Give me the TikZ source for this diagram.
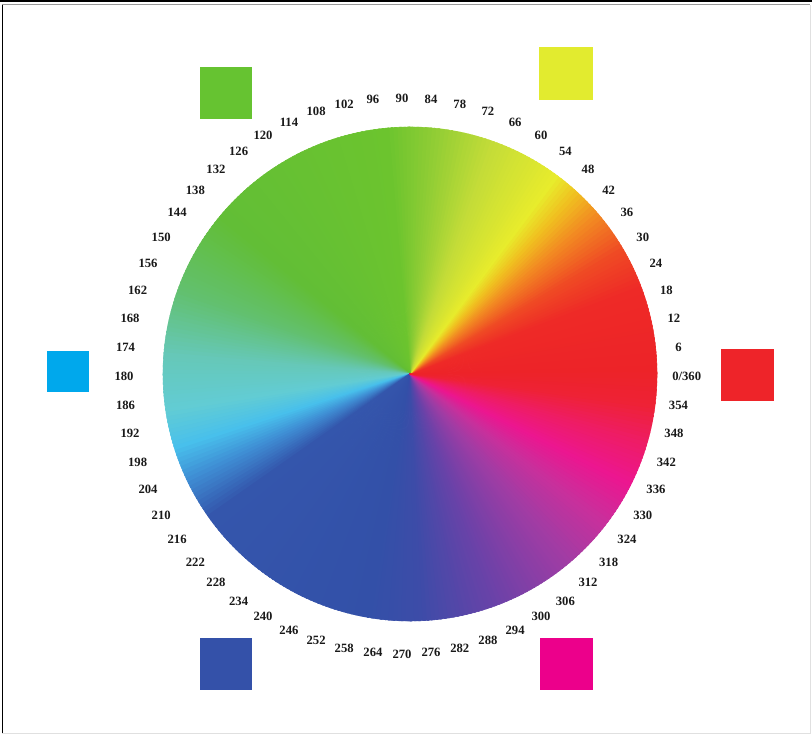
\documentclass[tikz,border=0pt]{standalone}
\usepackage{fontspec}
\setmainfont{Liberation Serif}
\usetikzlibrary{calc}
% wheel key colours
\definecolor{hRed}{HTML}{ED2328}
\definecolor{hRedB}{HTML}{EE2A27}
\definecolor{hOrR}{HTML}{EF4A24}
\definecolor{hOrange}{HTML}{F28A22}
\definecolor{hAmber}{HTML}{F0C020}
\definecolor{hYellow}{HTML}{E8EC2C}
\definecolor{hLime}{HTML}{C4DC38}
\definecolor{hYGreen}{HTML}{8CCC34}
\definecolor{hGreen}{HTML}{6CC42E}
\definecolor{hGreenB}{HTML}{62BE36}
\definecolor{hSea}{HTML}{62C070}
\definecolor{hTeal}{HTML}{66C8B8}
\definecolor{hAqua}{HTML}{62CCD4}
\definecolor{hSky}{HTML}{48C0EC}
\definecolor{hAzure}{HTML}{3F8ED4}
\definecolor{hBlue}{HTML}{3456AC}
\definecolor{hBlueB}{HTML}{3350A8}
\definecolor{hIndigo}{HTML}{3D4CA8}
\definecolor{hViolet}{HTML}{6A42A8}
\definecolor{hPurple}{HTML}{A23CA4}
\definecolor{hOrchid}{HTML}{C8309C}
\definecolor{hMagenta}{HTML}{EC1690}
\definecolor{hRose}{HTML}{EE1C66}
\definecolor{hCrimson}{HTML}{EE2236}
% swatch colours
\definecolor{sqGreen}{HTML}{66C331}
\definecolor{sqYellow}{HTML}{E2EB2F}
\definecolor{sqRed}{HTML}{EE2429}
\definecolor{sqCyan}{HTML}{00A8EC}
\definecolor{sqBlue}{HTML}{3451A9}
\definecolor{sqMagenta}{HTML}{EC008B}

\begin{document}
\begin{tikzpicture}[
  x=0.75pt, y=0.75pt,
  deg/.style={font=\fontsize{9.5}{10}\selectfont\bfseries, inner sep=0pt, text=black!90},
  swatch/.style={draw=none},
  frame/.style={line width=0.75pt},
]
\useasboundingbox (0,0) rectangle (812,735);

% ---------- frame ----------
\fill[black] (0,733) rectangle (812,735);
\draw[frame, draw=black!40] (2,730) -- (810,730);
\draw[frame, draw=black] (2,730) -- (2,2);
\draw[frame, draw=black!12] (2,2) -- (810,2) -- (810,730);

% ---------- wheel ----------
\coordinate (wc) at (410,361);
\coordinate (lc) at (402,359);
\foreach \a/\ca/\b/\cb in {0/hRed/20/hRedB, 20/hRedB/30/hOrR, 30/hOrR/40/hOrange,
    40/hOrange/47/hAmber, 47/hAmber/53/hYellow, 53/hYellow/70/hLime,
    70/hLime/85/hYGreen, 85/hYGreen/95/hGreen, 95/hGreen/140/hGreenB,
    140/hGreenB/160/hSea, 160/hSea/175/hTeal, 175/hTeal/188/hAqua,
    188/hAqua/197/hSky, 197/hSky/205/hAzure, 205/hAzure/215/hBlue,
    215/hBlue/260/hBlueB, 260/hBlueB/272/hIndigo, 272/hIndigo/290/hViolet,
    290/hViolet/310/hPurple, 310/hPurple/322/hOrchid, 322/hOrchid/333/hMagenta,
    333/hMagenta/343/hRose, 343/hRose/352/hCrimson, 352/hCrimson/360/hRed}{
  \pgfmathtruncatemacro\e{\b-1}
  \foreach \t in {\a,...,\e}{
    \pgfmathsetmacro\p{100*(\b-\t)/(\b-\a)}
    \filldraw[fill=\ca!\p!\cb, draw=\ca!\p!\cb, line width=0.4pt, line join=round]
      (wc) -- ($(wc)+(\t:247)$)
      arc[start angle=\t, end angle=\t+1.4, radius=247] -- cycle;
  }
}

% ---------- degree labels ----------
\foreach \a in {6,12,...,354}
  \node[deg] (d\a) at ($(lc)+(\a:278)$) {\a};
\node[deg, anchor=west] (d0) at ($(lc)+(0:270)$) {0/360};

% ---------- swatches ----------
\fill[swatch, fill=sqGreen] (200,616) rectangle (252,668);
\fill[swatch, fill=sqYellow] (539,635) rectangle (593,688);
\fill[swatch, fill=sqRed] (721,334) rectangle (774,386);
\fill[swatch, fill=sqCyan] (47,343) rectangle (89,384);
\fill[swatch, fill=sqBlue] (200,45) rectangle (252,97);
\fill[swatch, fill=sqMagenta] (540,45) rectangle (593,97);

\end{tikzpicture}
\end{document}
